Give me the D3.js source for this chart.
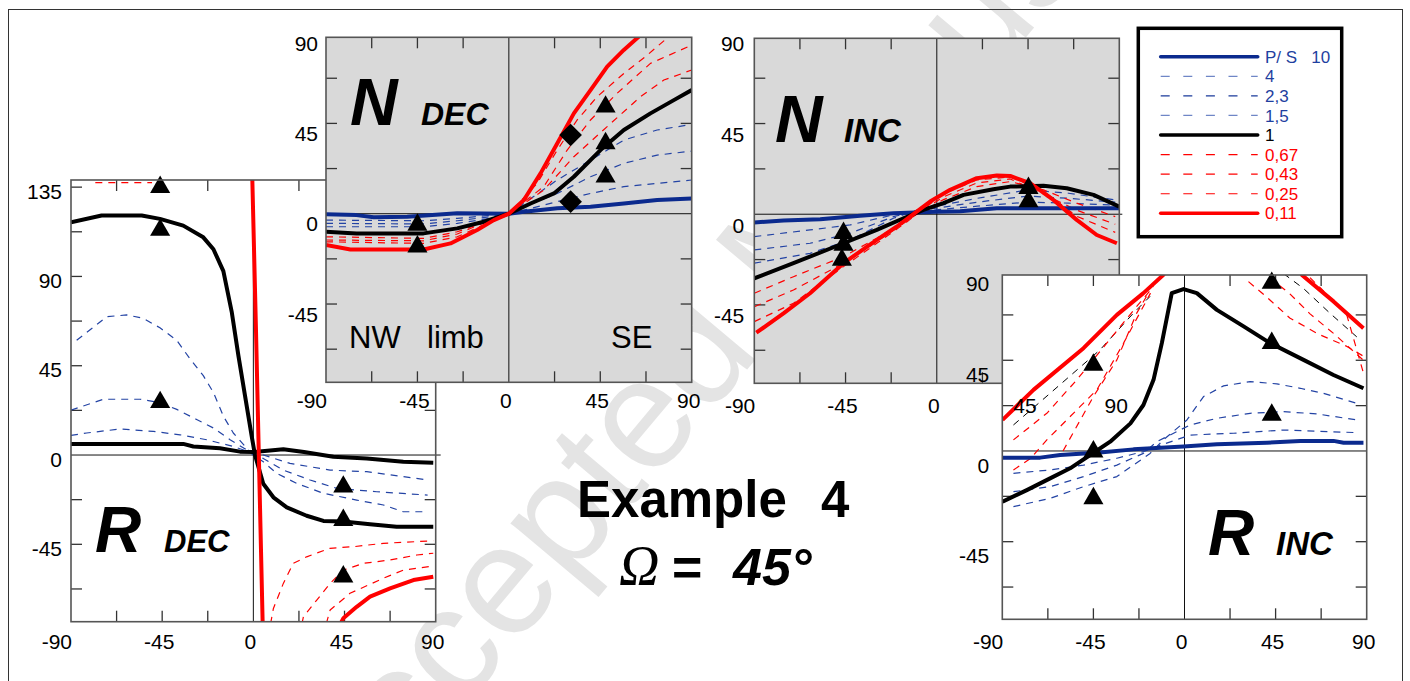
<!DOCTYPE html>
<html><head><meta charset="utf-8">
<script src="https://cdn.jsdelivr.net/npm/d3@7"></script>
<style>body{margin:0;background:#fff}svg{display:block}</style>
</head><body>
<svg id="c" width="1410" height="681"></svg>
<script>
// ---------------- DATA ----------------
const xTickLabels = [-90, -45, 0, 45, 90];
const legendLabels = ['P/ S   10', '4', '2,3', '1,5', '1', '0,67', '0,43', '0,25', '0,11'];
const legendKeys   = ['b10', 'b4', 'b23', 'b15', 'k1', 'r67', 'r43', 'r25', 'r11'];

// N DEC
const ndecB10 = [[-90,-0.3],[-75,-0.7],[-66.5,-1.8],[-50,-1.5],[-25.4,0.2],[0,0],[7.4,1],[23.8,2.7],[40.2,3.5],[56.6,5.1],[73,6.8],[90,7.6]];
const ndecB4  = [[-90,-3.2],[-42,-3.5],[-25.4,-2.3],[-9,-0.8],[0,0],[7.4,1.8],[23.8,6],[40.2,10.1],[56.6,13.5],[73,15.1],[90,16.8]];
const ndecB23 = [[-90,-4.8],[-42,-5.1],[-25.4,-3.5],[-9,-1.5],[0,0],[7.4,3.5],[23.8,10.1],[40.2,18.4],[56.6,25.1],[73,29.2],[90,31.2]];
const ndecB15 = [[-90,-6.5],[-42,-6.5],[-25.4,-4.8],[-9,-2.3],[0,0],[7.4,5.1],[23.8,16.8],[40.2,26.7],[56.6,36.7],[73,41.7],[90,44.5]];
const ndecK1  = [[-90,-9],[-75,-9.8],[-42,-9.8],[-25.4,-7.3],[-12.3,-4],[0,0],[10.7,5.1],[22.2,10.1],[32,18.4],[45.1,31.7],[56.6,41.7],[69.7,50],[81.2,56.6],[90,61.6]];
const ndecR67 = [[-90,-11.5],[-42,-12.3],[-25.4,-9],[-9,-3.2],[0,0],[17.2,11.8],[32,28.4],[48.4,43.4],[64.8,58.3],[76.3,66.6],[90,71.6]];
const ndecR43 = [[-90,-13.1],[-42,-13.5],[-25.4,-10.1],[-9,-3.2],[0,0],[17.2,13.5],[28.7,31.7],[40.2,46.7],[53.3,60],[69.7,74.9],[90,84]];
const ndecR25 = [[-90,-14],[-42,-14.8],[-25.4,-11.5],[-9,-4],[0,0],[13.9,15.1],[23.8,31.7],[33.6,46.7],[43.5,58.3],[56.6,69.9],[68.1,79],[79.6,89]];
const ndecR11 = [[-90,-15.6],[-78,-17.8],[-42,-17.8],[-28.7,-14.8],[-15.6,-8.1],[-7.4,-3.2],[0,0],[7.4,6.8],[15.6,20.1],[23.8,35],[32,50],[40.2,61.6],[48.4,73.3],[56.6,81.6],[64.8,89]];
const ndecTriangles = [[-45,-5.6],[-45,-16.4],[47.6,53.3],[47.6,35],[47.6,18.4]];
const ndecDiamonds  = [[30.4,39.2],[30.4,6]];

// N INC
const nincB10 = [[-90,-4.1],[-75.6,-3.1],[-57.5,-2.5],[-37.8,-0.8],[-21.4,0.5],[0,1.2],[11.5,1.5],[29.6,3],[52.6,3],[90,3]];
const nincB4  = [[-90,-11.1],[-62.5,-7.8],[-42.7,-5.3],[-21.4,-0.3],[-10,1],[3,2.5],[20,4],[45,6],[65,5.5],[88,4.5]];
const nincB23 = [[-90,-17.7],[-62.5,-14.4],[-42.7,-9.4],[-21.4,-1.2],[-10,1.5],[3,3.5],[20,6],[45,9],[65,7.9],[88,6]];
const nincB15 = [[-90,-24.3],[-62.5,-19.4],[-42.7,-12.7],[-21.4,-2],[-10,2],[3,4.6],[20,7.9],[45,12.1],[65,10.4],[88,7.1]];
const nincK1  = [[-90,-31.8],[-70.7,-24.3],[-46,-14.4],[-29.6,-7.8],[-16.4,-2],[-6.6,2.2],[3.3,5.5],[13.2,9.6],[27.9,12.4],[36.2,13.7],[52.6,14.1],[64.1,12.9],[77.3,9.6],[90,3.8]];
const nincR67 = [[-90,-39.2],[-70.7,-31],[-46,-21],[-29.6,-11.9],[-15,-3],[3,7.1],[19.7,13.7],[36.2,16.2],[52.6,12.1],[69,5.5],[88,-1.2]];
const nincR43 = [[-90,-45.9],[-70.7,-37.6],[-46,-24.3],[-29.6,-13.6],[-15,-3.5],[3,8.5],[19.7,15.5],[36.2,17.5],[52.6,10],[69,2],[88,-5]];
const nincR25 = [[-90,-53.3],[-70.7,-44.2],[-46,-26],[-29.6,-14.4],[-15,-4],[3,10],[19.7,17],[36.2,18.5],[52.6,11.5],[69,-1],[88,-9]];
const nincR11 = [[-89,-58.8],[-75.6,-49.2],[-62.5,-39.2],[-46,-24.3],[-29.6,-12.7],[-19.7,-6.1],[-9.9,1.3],[-3.3,6.3],[6.6,12.1],[19.7,17.9],[29.6,19.2],[36.2,19],[46,15.4],[57.5,7.1],[69,-2.8],[78.9,-10.3],[88.8,-14.4]];
const nincTriangles = [[-46,-9.4],[-46,-15.2],[-46.8,-22.7],[45.2,12.9],[45.2,6.3]];

// R DEC
const rdecK10 = [[-90,5.6],[-34.6,5.6],[-29.6,4.3],[-16.5,3.4],[-6.6,1.7],[0,1.5],[14.8,2.9],[25,1.5],[39.5,-0.9],[56,-1.7],[74,-3.4],[88.8,-3.9]];
const rdecB4  = [[-90,9.9],[-82.3,11.1],[-65.8,13.1],[-49.4,11.9],[-36.2,10.2],[-23,7.7],[-9.9,4.3],[0,0.9],[4.9,0],[18.1,-4.2],[37.9,-7.6],[56,-8.4],[74,-10.9],[86,-12.6]];
const rdecB23 = [[-90,22.6],[-74,28.1],[-55.9,28.1],[-46.1,26.4],[-37.8,23],[-28,17.9],[-19.7,13.6],[-11.5,7.7],[-3.3,2.6],[0,0],[4.9,-1.7],[14.8,-7.6],[28,-12.6],[41.2,-16.8],[60.9,-18.5],[86,-20.2]];
const rdecB15 = [[-87.2,57.8],[-72.4,69.7],[-62.5,70.6],[-54.3,68.9],[-46.1,64.1],[-37.8,57.8],[-31.3,48.5],[-24.7,40],[-19.7,31.5],[-14.8,19.6],[-9.9,11.1],[-3.3,3.4],[0,0],[4.9,-3.4],[11.5,-9.2],[21.4,-14.3],[34.6,-19.3],[51,-22.7],[64.2,-25.2],[74,-28.6],[86,-28.6]];
const rdecK1  = [[-90,117.3],[-74.9,120.7],[-55.1,120.7],[-46.1,119],[-34.6,115.6],[-24.7,109.7],[-19.7,103.7],[-14.8,92.7],[-10.7,72.3],[-7.4,50.2],[-4.1,29.8],[-0.8,9.4],[0.8,0],[2.5,-6],[4.9,-14.5],[9.9,-21.3],[16.5,-26.4],[26.3,-30.6],[34.6,-33.2],[44.4,-33.5],[57.6,-34.9],[70.7,-36.2],[88.8,-36.2]];
const rdecR67 = [[-78,137.3],[-50,137.3],null,[8.5,-85],[9.9,-77.3],[14.8,-64.7],[19.7,-54.6],[26.3,-51.3],[37.8,-47],[49.4,-46.2],[64.2,-44.5],[88.8,-43.2]];
const rdecR43 = [[24,-85],[24.7,-81.5],[31.3,-73.1],[37.9,-64.7],[44.4,-58],[54.3,-54.6],[67.5,-52.9],[80.7,-50.4],[88.8,-49.5]];
const rdecR25 = [[36,-85],[37.9,-78.1],[47.7,-69.7],[64.2,-62.1],[74,-58],[88.8,-55.9]];
const rdecR11 = [[-0.5,138.6],[1.3,63],[4.6,-85],null,[43,-85],[44.4,-82.3],[51,-76.5],[57.6,-71.4],[67.5,-67.2],[79,-63],[88.8,-61.3]];
const rdecTriangles = [[-46,135],[-46,113.4],[-46,26.6],[44.4,-16],[44.4,-32.8],[44.4,-61.3]];

// R INC
const rincB10 = [[-89.9,-3.3],[-71.3,-3.3],[-61.4,-2],[-41.7,-0.8],[-25.2,0.8],[-0.5,2.2],[16,3.3],[40.7,4.1],[57.2,5],[73.6,5],[78.6,4.1],[88.4,4.1]];
const rincB4  = [[-84.5,-11.1],[-66.4,-9.4],[-49.9,-7],[-33.4,-3.6],[-20.3,-0.3],[-13.7,2.2],[2.8,7.9],[24.2,8.8],[48.9,10.4],[85,9.1]];
const rincB23 = [[-84.5,-20.2],[-66.4,-17.7],[-49.9,-12.7],[-33.4,-7],[-20.3,-1.2],[-13.7,4.6],[2.8,12.9],[16,16.2],[32.4,18.7],[48.9,19.5],[65.4,18.4],[85,15.4]];
const rincB15 = [[-84.5,-27.6],[-66.4,-23.5],[-49.9,-17.7],[-33.4,-12.7],[-17,-1.2],[-10.4,5.5],[1.2,15.4],[9.4,27],[19.3,32.3],[32.4,34.4],[45.6,33.3],[57.2,31.1],[68.7,28.6],[85,23.7]];
const rincK1  = [[-89.9,-25.2],[-77.9,-19.4],[-66.4,-13.6],[-56.5,-8.6],[-46.6,-2],[-36.7,4.6],[-26.7,13.7],[-20.3,22.8],[-15.3,35.3],[-11.2,53.5],[-6.3,78.3],[-0.5,80.3],[6.1,78.3],[16,70],[29.2,61.8],[42.3,53.5],[58.8,45.2],[73.6,37.7],[88.4,31.1]];
const rincKd  = [[-84.5,12.9],[-66.4,28.6],[-41.7,50.2],[-25.2,68.4],[-17,76.7],null,[48.9,88],[58.8,80.6],[72,68.2],[85.1,56.6]];
const rincR67 = [[-84.5,5.5],[-68,18.7],[-53.2,35.3],[-38.4,53.5],[-23.6,71.7],[-15.3,81.6],null,[31.6,84],[41,76],[52,66],[66,58],[80,52],[88.4,47]];
const rincR43 = [[-84.5,-9.4],[-76,-3.7],[-68,5.5],[-51.5,22.1],[-43.3,30.3],[-30.1,53.5],[-16.8,78.3],null,[42,86],[52,78],[62,68],[74,58],[88.4,45]];
const rincR25 = [[-60,0],[-45,27],[-33.4,45.2],[-23.6,68.4],[-18,78],null,[62,86],[70,78],[80,68],[88.4,38.6]];
const rincR11 = [[-89.9,15.4],[-74.6,30.3],[-49.9,51],[-33.4,67.5],[-20.3,78.3],[-10.4,87.4],[-9,95],null,[56,95],[58,87.3],[73.6,74.2],[88.4,60.9]];
const rincTriangles = [[-45,42.7],[-45,-0.3],[-45,-23.5],[43.1,83.3],[43.1,53.5],[43.1,17.9]];

// ---------------- STYLE ----------------
const FONT = '"Liberation Sans", Arial, Helvetica, sans-serif';
const NAVY = '#0b2a8e', BLUE = '#2343a4', BLUE_L = '#6f86c6', RED = '#ff0000';
const STYLE = {
  b10: {stroke: NAVY, w: 4},
  b4:  {stroke: BLUE, w: 1.2, dash: '7,6'},
  b23: {stroke: BLUE, w: 1.2, dash: '7,6'},
  b15: {stroke: BLUE, w: 1.2, dash: '7,6'},
  k1:  {stroke: '#000', w: 4},
  r67: {stroke: RED, w: 1.2, dash: '7,6'},
  r43: {stroke: RED, w: 1.2, dash: '7,6'},
  r25: {stroke: RED, w: 1.2, dash: '7,6'},
  r11: {stroke: RED, w: 4},
  kd:  {stroke: '#000', w: 1, dash: '7,6'}
};
const DRAW_ORDER = ['kd','b4','b23','b15','r67','r43','r25','b10','k1','r11'];

const svg = d3.select('#c');
const defs = svg.append('defs');

// watermark
svg.append('text')
  .attr('transform', 'translate(344,850) rotate(-50)')
  .attr('font-family', FONT).attr('font-size', 156)
  .attr('fill', '#e4e4e4')
  .text('Accepted Manuscript');

function panel(cfg, series, tris, dias) {
  const x = d3.scaleLinear().domain([-90, 90]).range([cfg.x0, cfg.x1]);
  const y = d3.scaleLinear().domain(cfg.yDomain).range([cfg.y1, cfg.y0]);
  const g = svg.append('g');
  g.append('rect').attr('x', cfg.x0).attr('y', cfg.y0)
    .attr('width', cfg.x1 - cfg.x0).attr('height', cfg.y1 - cfg.y0)
    .attr('fill', cfg.fill);
  defs.append('clipPath').attr('id', 'clip-' + cfg.id).append('rect')
    .attr('x', cfg.x0).attr('y', cfg.y0)
    .attr('width', cfg.x1 - cfg.x0).attr('height', cfg.y1 - cfg.y0);
  // zero lines
  g.append('line').attr('x1', x(0)).attr('x2', x(0)).attr('y1', cfg.y0).attr('y2', cfg.y1)
    .attr('stroke', '#111').attr('stroke-width', 1);
  g.append('line').attr('x1', cfg.x0).attr('x2', cfg.x1 + (cfg.zeroExt || 0)).attr('y1', y(0)).attr('y2', y(0))
    .attr('stroke', '#111').attr('stroke-width', 1);
  // inward ticks
  const TL = 11;
  const xt = d3.range(-67.5, 90, 22.5).filter(v => Math.abs(v) > 1e-6);
  const yt = d3.range(-90, 180, 22.5).filter(v => Math.abs(v) > 1e-6 && y(v) > cfg.y0 + 3 && y(v) < cfg.y1 - 3);
  const tk = g.append('g').attr('stroke', '#333').attr('stroke-width', 1.3);
  xt.forEach(v => {
    tk.append('line').attr('x1', x(v)).attr('x2', x(v)).attr('y1', cfg.y0).attr('y2', cfg.y0 + TL);
    tk.append('line').attr('x1', x(v)).attr('x2', x(v)).attr('y1', cfg.y1).attr('y2', cfg.y1 - TL);
  });
  yt.forEach(v => {
    tk.append('line').attr('y1', y(v)).attr('y2', y(v)).attr('x1', cfg.x0).attr('x2', cfg.x0 + TL);
    tk.append('line').attr('y1', y(v)).attr('y2', y(v)).attr('x1', cfg.x1).attr('x2', cfg.x1 - TL);
  });
  // curves
  const line = d3.line().defined(d => d != null).x(d => x(d[0])).y(d => y(d[1]));
  const cg = g.append('g').attr('clip-path', 'url(#clip-' + cfg.id + ')');
  DRAW_ORDER.forEach(k => {
    (series[k] || []).forEach(data => {
      const s = STYLE[k];
      cg.append('path').attr('d', line(data)).attr('fill', 'none')
        .attr('stroke', s.stroke).attr('stroke-width', s.w)
        .attr('stroke-dasharray', s.dash || null)
        .attr('stroke-linejoin', 'round');
    });
  });
  // markers
  const tri = d3.symbol().type(d3.symbolTriangle).size(175);
  g.selectAll(null).data(tris).enter().append('path')
    .attr('d', tri).attr('transform', d => `translate(${x(d[0])},${y(d[1])})`).attr('fill', '#000');
  const sq = d3.symbol().type(d3.symbolSquare).size(256);
  g.selectAll(null).data(dias || []).enter().append('path')
    .attr('d', sq).attr('transform', d => `translate(${x(d[0])},${y(d[1])}) rotate(45)`).attr('fill', '#000');
  // frame
  g.append('rect').attr('x', cfg.x0).attr('y', cfg.y0)
    .attr('width', cfg.x1 - cfg.x0).attr('height', cfg.y1 - cfg.y0)
    .attr('fill', 'none').attr('stroke', '#555').attr('stroke-width', 1.6);
  return {x, y, cfg};
}

const P = {};
P.rdec = panel({id: 'rdec', x0: 71, x1: 435.7, y0: 180, y1: 621.7, yDomain: [-84, 138.6], fill: '#fff', zeroExt: 5,
  yLabels: [135, 90, 45, 0, -45], yGap: 9, yDy: 4, xDy: 20},
  {k1: [rdecK10, rdecK1], b4: [rdecB4], b23: [rdecB23], b15: [rdecB15], r67: [rdecR67], r43: [rdecR43], r25: [rdecR25], r11: [rdecR11]},
  rdecTriangles);
P.ndec = panel({id: 'ndec', x0: 326, x1: 691.7, y0: 37.3, y1: 382.3, yDomain: [-84, 87.9], fill: '#d9d9d9',
  yLabels: [90, 45, 0, -45], yGap: 8, yDy: 10, xDy: 17.7},
  {b10: [ndecB10], b4: [ndecB4], b23: [ndecB23], b15: [ndecB15], k1: [ndecK1], r67: [ndecR67], r43: [ndecR43], r25: [ndecR25], r11: [ndecR11]},
  ndecTriangles, ndecDiamonds);
P.ninc = panel({id: 'ninc', x0: 754.3, x1: 1119.3, y0: 38.3, y1: 383.3, yDomain: [-83.9, 87.3], fill: '#d9d9d9', zeroExt: 3,
  yLabels: [90, 45, 0, -45], yGap: 10, yDy: 11, xDy: 21.7},
  {b10: [nincB10], b4: [nincB4], b23: [nincB23], b15: [nincB15], k1: [nincK1], r67: [nincR67], r43: [nincR43], r25: [nincR25], r11: [nincR11]},
  nincTriangles);
P.rinc = panel({id: 'rinc', x0: 1002.3, x1: 1366.7, y0: 275, y1: 619.3, yDomain: [-83.5, 87.3], fill: '#fff',
  yLabels: [90, 45, 0, -45], yGap: 13, yDy: 14, xDy: 22.4},
  {b10: [rincB10], b4: [rincB4], b23: [rincB23], b15: [rincB15], k1: [rincK1], kd: [rincKd], r67: [rincR67], r43: [rincR43], r25: [rincR25], r11: [rincR11]},
  rincTriangles);

// legend
const lg = svg.append('g');
lg.append('rect').attr('x', 1138.3).attr('y', 28.3).attr('width', 203.4).attr('height', 208.4)
  .attr('fill', '#fff').attr('stroke', '#000').attr('stroke-width', 3.5);
const ly = d3.scalePoint().domain(legendKeys).range([56.7, 213.3]);
const legendStroke = {b10: NAVY, b4: BLUE_L, b23: '#1a3a9a', b15: BLUE_L, k1: '#000', r67: RED, r43: RED, r25: RED, r11: RED};
const legendText = {b10: '#1f3fa0', b4: '#1f3fa0', b23: '#1f3fa0', b15: '#1f3fa0', k1: '#000', r67: RED, r43: RED, r25: RED, r11: RED};
legendKeys.forEach((k, i) => {
  const s = STYLE[k];
  lg.append('line').attr('x1', 1160.7).attr('x2', 1257.7).attr('y1', ly(k)).attr('y2', ly(k))
    .attr('stroke', legendStroke[k]).attr('stroke-width', s.dash ? 1.2 : 3.6)
    .attr('stroke-dasharray', s.dash ? '9,13.6' : null).attr('stroke-linecap', s.dash ? 'butt' : 'round');
  lg.append('text').attr('x', 1265).attr('y', ly(k)).attr('dy', '0.36em')
    .attr('font-family', FONT).attr('font-size', 17).attr('fill', legendText[k])
    .style('white-space', 'pre').text(legendLabels[i]);
});

// tick labels (drawn on top of everything)
const lab = svg.append('g').attr('font-family', FONT).attr('font-size', 21).attr('fill', '#000');
Object.values(P).forEach(p => {
  const c = p.cfg;
  c.yLabels.forEach(v => {
    lab.append('text').attr('x', c.x0 - c.yGap).attr('y', p.y(v) + c.yDy).attr('dy', '0.36em')
      .attr('text-anchor', 'end').text(v);
  });
  xTickLabels.forEach((v, i) => {
    lab.append('text')
      .attr('x', i === 0 ? c.x0 + 1 : p.x(v) - 3)
      .attr('y', c.y1 + c.xDy).attr('dy', '0.36em')
      .attr('text-anchor', i === 0 ? 'end' : 'middle').text(v);
  });
});

// panel titles
function title(big, small, xb, xs, base, bigSize, smallSize) {
  svg.append('text').attr('x', xb).attr('y', base).attr('font-family', FONT)
    .attr('font-weight', 'bold').attr('font-style', 'italic').attr('font-size', bigSize).text(big);
  svg.append('text').attr('x', xs).attr('y', base).attr('font-family', FONT)
    .attr('font-weight', 'bold').attr('font-style', 'italic').attr('font-size', smallSize).text(small);
}
title('N', 'DEC', 350, 421, 125, 66, 32);
title('N', 'INC', 775, 844, 141.7, 66, 33);
title('R', 'DEC', 95, 164, 551.7, 64, 31);
title('R', 'INC', 1208, 1276, 555, 64, 33);

const plain = (t, x, y, size) => svg.append('text').attr('x', x).attr('y', y)
  .attr('font-family', FONT).attr('font-size', size).text(t);
plain('NW', 349, 348.3, 31);
plain('limb', 427, 348.3, 31);
plain('SE', 611, 348.3, 31);

// centre caption
svg.append('text').attr('x', 577).attr('y', 516.7).attr('font-family', FONT)
  .attr('font-weight', 'bold').attr('font-size', 51).text('Example');
svg.append('text').attr('x', 821).attr('y', 516.7).attr('font-family', FONT)
  .attr('font-weight', 'bold').attr('font-size', 51).text('4');
svg.append('text').attr('x', 619).attr('y', 585).attr('font-family', '"Liberation Serif", "Times New Roman", serif')
  .attr('font-style', 'italic').attr('font-size', 56).text('Ω');
svg.append('text').attr('x', 672).attr('y', 585).attr('font-family', FONT)
  .attr('font-weight', 'bold').attr('font-size', 52).text('=');
svg.append('text').attr('x', 733).attr('y', 585).attr('font-family', FONT)
  .attr('font-weight', 'bold').attr('font-style', 'italic').attr('font-size', 52).text('45°');

// outer frame
svg.append('rect').attr('x', 8.5).attr('y', 9.5).attr('width', 1394).attr('height', 700)
  .attr('fill', 'none').attr('stroke', '#333').attr('stroke-width', 1);
</script>
</body></html>
